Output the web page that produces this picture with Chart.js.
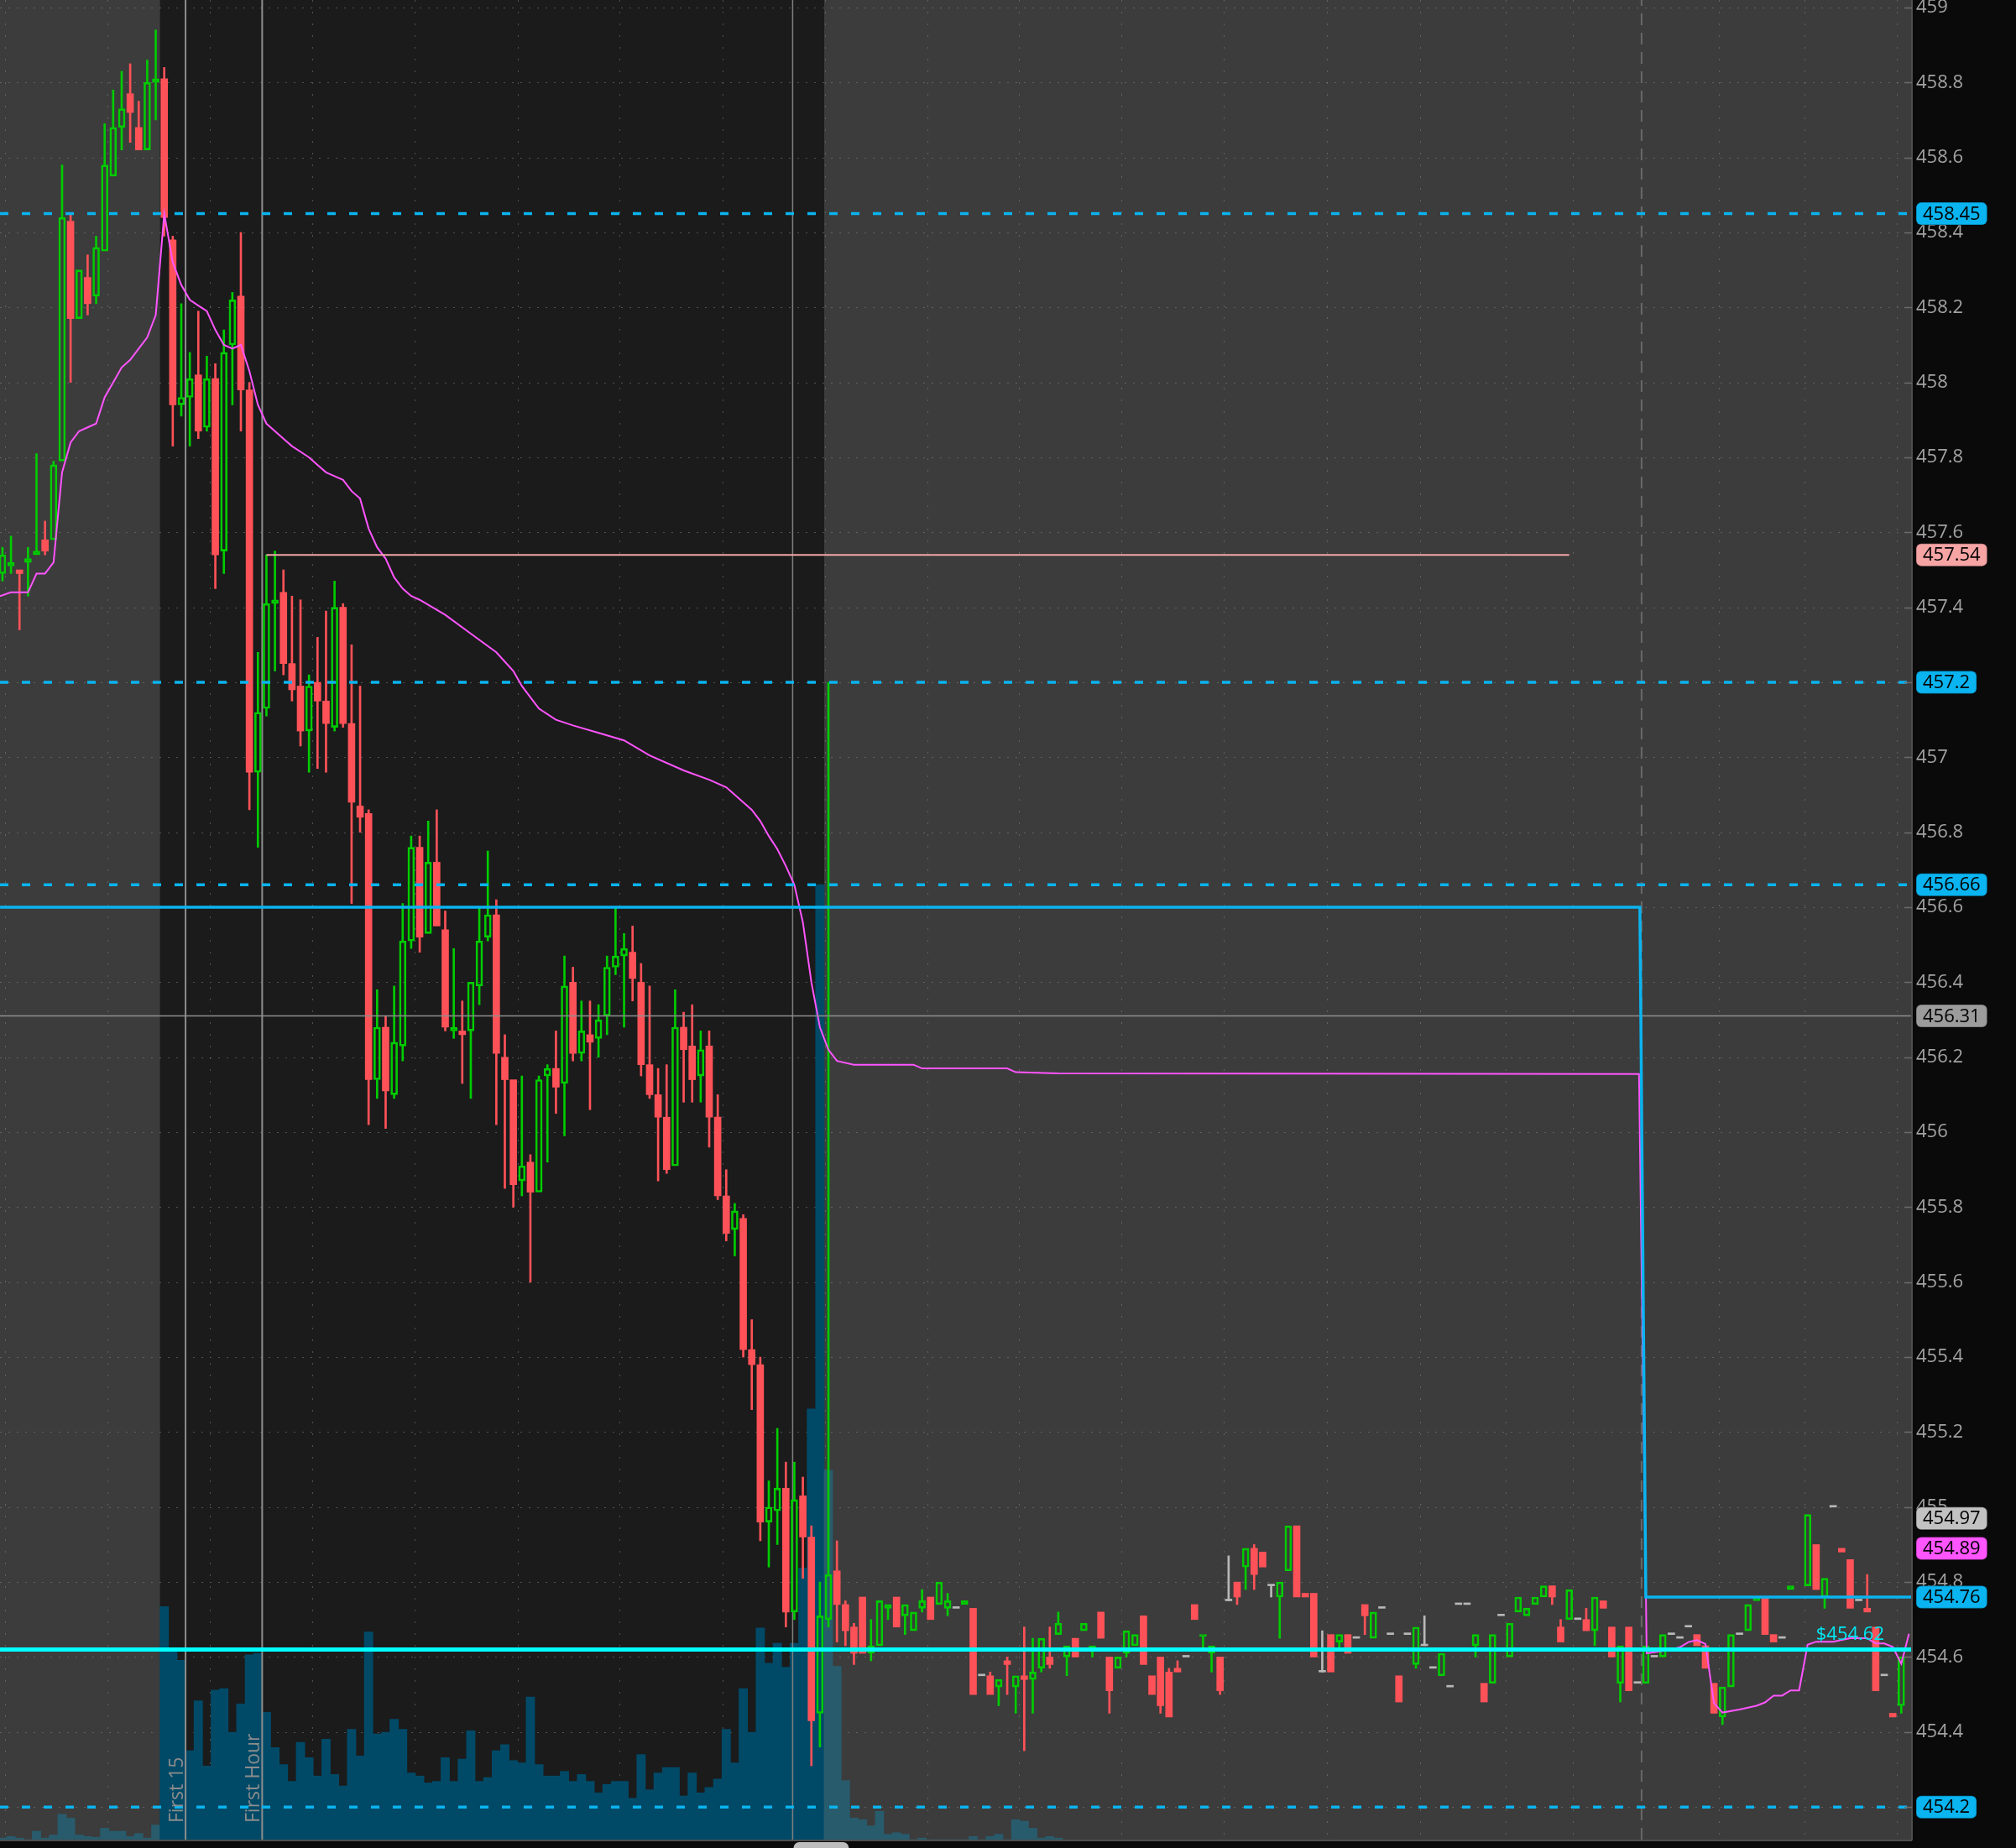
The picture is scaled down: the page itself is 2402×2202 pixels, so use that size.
<!DOCTYPE html>
<html>
<head>
<meta charset="utf-8">
<title>SPY 5 min</title>
<script src="https://cdn.jsdelivr.net/npm/chart.js@4.4.1/dist/chart.umd.min.js"></script>
<style>
  html, body { margin: 0; padding: 0; background: #0a0a0a; }
  canvas { display: block; }
</style>
</head>
<body>
<canvas id="chart" width="2402" height="2202"></canvas>
<script>
// one slot per 5 min bar, slot 19 = regular session open
const OPEN = [
  457.49, 457.51, 457.50, 457.52, 457.54, 457.58, 457.58, 457.79, 458.43, 458.17,
  458.28, 458.23, 458.35, 458.55, 458.68, 458.77, 458.68, 458.62, 458.80, 458.81,
  458.38, 457.94, 457.96, 458.02, 457.88, 458.01, 457.55, 458.10, 458.23, 457.98,
  456.96, 457.13, 457.41, 457.44, 457.25, 457.19, 457.07, 457.20, 457.15, 457.08,
  457.40, 457.09, 456.87, 456.85, 456.14, 456.28, 456.10, 456.23, 456.51, 456.76,
  456.53, 456.72, 456.54, 456.27, 456.27, 456.27, 456.39, 456.52, 456.58, 456.20,
  456.14, 455.87, 455.92, 455.84, 456.15, 456.17, 456.13, 456.40, 456.21, 456.26,
  456.25, 456.31, 456.44, 456.47, 456.48, 456.40, 456.18, 456.10, 456.04, 455.91,
  456.28, 456.23, 456.15, 456.23, 456.04, 455.83, 455.74, 455.77, 455.42, 455.38,
  454.96, 454.99, 455.05, 454.72, 455.03, 454.92, 454.45, 454.70, 454.83, 454.74,
  454.68, 454.76, 454.61, 454.63, 454.73, 454.76, 454.71, 454.67, 454.73, 454.76,
  454.74, 454.73, 454.73, 454.74, 454.73, 454.55, 454.55, 454.52, 454.59, 454.52,
  454.55, 454.54, 454.57, 454.60, 454.66, 454.60, 454.65, 454.67, 454.62, 454.72,
  454.60, 454.57, 454.61, 454.63, 454.71, 454.55, 454.60, 454.56, 454.57, 454.60,
  454.74, 454.655, 454.61, 454.60, 454.75, 454.80, 454.84, 454.89, 454.88, 454.79,
  454.76, 454.83, 454.95, 454.77, 454.77, 454.56, 454.66, 454.64, 454.66, 454.65,
  454.74, 454.65, 454.73, 454.66, 454.55, 454.66, 454.58, 454.63, 454.57, 454.55,
  454.52, 454.74, 454.74, 454.63, 454.53, 454.53, 454.71, 454.60, 454.72, 454.71,
  454.74, 454.76, 454.79, 454.68, 454.70, 454.70, 454.70, 454.67, 454.75, 454.68,
  454.53, 454.68, 454.53, 454.53, 454.60, 454.60, 454.66, 454.65, 454.68, 454.66,
  454.63, 454.53, 454.44, 454.52, 454.66, 454.67, 454.75, 454.76, 454.66, 454.65,
  454.78, null, 454.79, 454.90, 454.76, 455.00, 454.89, 454.86, 454.75, 454.73,
  454.68, 454.55, 454.45, 454.47, null
];
const HIGH = [
  457.56, 457.59, 457.50, 457.56, 457.81, 457.63, 457.79, 458.58, 458.45, 458.30,
  458.34, 458.39, 458.69, 458.78, 458.83, 458.85, 458.75, 458.86, 458.94, 458.84,
  458.39, 458.21, 458.08, 458.19, 458.07, 458.05, 458.14, 458.24, 458.40, 458.00,
  457.28, 457.54, 457.55, 457.50, 457.43, 457.42, 457.22, 457.32, 457.39, 457.47,
  457.41, 457.30, 457.19, 456.86, 456.38, 456.31, 456.39, 456.61, 456.79, 456.79,
  456.83, 456.86, 456.59, 456.49, 456.35, 456.40, 456.60, 456.75, 456.62, 456.26,
  456.14, 456.15, 455.94, 456.15, 456.18, 456.27, 456.47, 456.44, 456.35, 456.35,
  456.34, 456.47, 456.60, 456.53, 456.55, 456.45, 456.39, 456.17, 456.18, 456.38,
  456.32, 456.34, 456.27, 456.27, 456.10, 455.90, 455.81, 455.78, 455.50, 455.40,
  455.07, 455.21, 455.12, 455.12, 455.08, 454.95, 454.80, 457.20, 454.91, 454.75,
  454.69, 454.76, 454.70, 454.75, 454.74, 454.76, 454.74, 454.72, 454.78, 454.76,
  454.80, 454.77, 454.73, 454.75, 454.73, 454.55, 454.56, 454.54, 454.60, 454.55,
  454.68, 454.65, 454.65, 454.68, 454.72, 454.63, 454.65, 454.69, 454.63, 454.72,
  454.60, 454.60, 454.67, 454.66, 454.71, 454.55, 454.60, 454.57, 454.59, 454.60,
  454.74, 454.66, 454.63, 454.60, 454.87, 454.80, 454.89, 454.90, 454.88, 454.79,
  454.80, 454.95, 454.95, 454.77, 454.77, 454.67, 454.66, 454.66, 454.66, 454.65,
  454.74, 454.72, 454.73, 454.66, 454.55, 454.66, 454.68, 454.71, 454.57, 454.61,
  454.52, 454.74, 454.74, 454.66, 454.53, 454.66, 454.71, 454.69, 454.76, 454.73,
  454.76, 454.79, 454.79, 454.70, 454.78, 454.70, 454.73, 454.76, 454.75, 454.68,
  454.63, 454.68, 454.53, 454.63, 454.60, 454.66, 454.66, 454.65, 454.68, 454.66,
  454.63, 454.53, 454.52, 454.66, 454.66, 454.74, 454.76, 454.76, 454.66, 454.65,
  454.79, null, 454.98, 454.90, 454.81, 455.00, 454.89, 454.86, 454.75, 454.82,
  454.68, 454.55, 454.45, 454.60, null
];
const LOW = [
  457.47, 457.49, 457.34, 457.43, 457.54, 457.54, 457.58, 457.79, 458.00, 458.17,
  458.18, 458.21, 458.35, 458.55, 458.62, 458.64, 458.62, 458.62, 458.70, 458.39,
  457.83, 457.91, 457.83, 457.85, 457.87, 457.45, 457.49, 457.94, 457.87, 456.86,
  456.76, 457.11, 457.23, 457.22, 457.15, 457.03, 456.96, 456.97, 456.96, 457.07,
  457.08, 456.61, 456.80, 456.02, 456.09, 456.01, 456.09, 456.19, 456.49, 456.48,
  456.53, 456.55, 456.27, 456.25, 456.13, 456.09, 456.34, 456.51, 456.02, 455.85,
  455.80, 455.83, 455.60, 455.84, 455.92, 456.05, 455.99, 456.19, 456.19, 456.06,
  456.20, 456.26, 456.42, 456.28, 456.35, 456.15, 456.09, 455.87, 455.89, 455.91,
  456.08, 456.08, 456.08, 455.96, 455.82, 455.71, 455.67, 455.40, 455.26, 454.91,
  454.84, 454.90, 454.68, 454.70, 454.81, 454.31, 454.36, 454.68, 454.64, 454.63,
  454.58, 454.61, 454.59, 454.63, 454.70, 454.68, 454.66, 454.67, 454.72, 454.70,
  454.74, 454.71, 454.73, 454.74, 454.50, 454.55, 454.50, 454.47, 454.50, 454.45,
  454.35, 454.45, 454.56, 454.57, 454.66, 454.55, 454.60, 454.67, 454.60, 454.65,
  454.45, 454.57, 454.60, 454.63, 454.58, 454.50, 454.45, 454.44, 454.56, 454.60,
  454.70, 454.625, 454.56, 454.50, 454.75, 454.74, 454.78, 454.78, 454.84, 454.76,
  454.65, 454.83, 454.76, 454.76, 454.60, 454.56, 454.56, 454.62, 454.61, 454.65,
  454.66, 454.65, 454.73, 454.66, 454.48, 454.66, 454.57, 454.63, 454.57, 454.55,
  454.52, 454.74, 454.74, 454.60, 454.48, 454.53, 454.71, 454.60, 454.72, 454.71,
  454.74, 454.76, 454.74, 454.64, 454.70, 454.70, 454.67, 454.63, 454.73, 454.60,
  454.48, 454.51, 454.53, 454.53, 454.60, 454.60, 454.66, 454.65, 454.68, 454.63,
  454.57, 454.45, 454.42, 454.52, 454.66, 454.67, 454.75, 454.66, 454.64, 454.65,
  454.78, null, 454.79, 454.78, 454.73, 455.00, 454.88, 454.73, 454.75, 454.72,
  454.51, 454.55, 454.44, 454.45, null
];
const CLOSE = [
  457.54, 457.52, 457.49, 457.53, 457.55, 457.55, 457.78, 458.44, 458.17, 458.30,
  458.21, 458.36, 458.58, 458.68, 458.73, 458.72, 458.62, 458.80, 458.81, 458.44,
  457.94, 457.96, 458.01, 457.87, 458.01, 457.54, 458.08, 458.22, 457.98, 456.96,
  457.12, 457.41, 457.42, 457.25, 457.18, 457.07, 457.19, 457.15, 457.09, 457.40,
  457.09, 456.88, 456.84, 456.14, 456.28, 456.11, 456.24, 456.51, 456.76, 456.52,
  456.72, 456.55, 456.28, 456.28, 456.26, 456.40, 456.51, 456.58, 456.21, 456.14,
  455.86, 455.91, 455.84, 456.14, 456.17, 456.12, 456.39, 456.21, 456.27, 456.24,
  456.30, 456.44, 456.47, 456.49, 456.41, 456.18, 456.10, 456.04, 455.90, 456.28,
  456.22, 456.14, 456.22, 456.04, 455.83, 455.73, 455.79, 455.42, 455.38, 454.96,
  455.00, 455.05, 454.72, 455.02, 454.92, 454.43, 454.71, 454.82, 454.74, 454.67,
  454.61, 454.61, 454.63, 454.75, 454.74, 454.68, 454.74, 454.72, 454.75, 454.70,
  454.80, 454.75, 454.73, 454.75, 454.50, 454.55, 454.50, 454.54, 454.58, 454.55,
  454.54, 454.56, 454.65, 454.58, 454.69, 454.63, 454.60, 454.69, 454.63, 454.65,
  454.51, 454.60, 454.67, 454.66, 454.58, 454.50, 454.47, 454.44, 454.56, 454.60,
  454.70, 454.66, 454.63, 454.51, 454.75, 454.76, 454.89, 454.82, 454.84, 454.79,
  454.80, 454.95, 454.76, 454.76, 454.60, 454.56, 454.56, 454.66, 454.61, 454.65,
  454.71, 454.72, 454.73, 454.66, 454.48, 454.66, 454.68, 454.63, 454.57, 454.61,
  454.52, 454.74, 454.74, 454.66, 454.48, 454.66, 454.71, 454.69, 454.76, 454.73,
  454.76, 454.79, 454.76, 454.64, 454.78, 454.70, 454.67, 454.76, 454.73, 454.60,
  454.63, 454.51, 454.53, 454.63, 454.60, 454.66, 454.66, 454.65, 454.68, 454.63,
  454.57, 454.45, 454.52, 454.66, 454.66, 454.74, 454.76, 454.66, 454.64, 454.65,
  454.79, null, 454.98, 454.78, 454.81, 455.00, 454.88, 454.73, 454.75, 454.72,
  454.51, 454.55, 454.44, 454.60, null
];
// volume in thousands of shares, slots 0..124 (nothing shown after)
const VOLUME = [
  2, 4, 2, 0, 11, 2, 6, 33, 28, 6, 4, 3, 15, 11, 11, 4, 8, 2, 19,
  304, 246, 234, 116, 181, 96, 195, 197, 140, 177,
  241, 243, 166, 120, 98, 76, 127, 107, 83, 131,
  85, 70, 144, 109, 271, 138, 140, 157, 144, 87,
  83, 74, 76, 107, 76, 105, 142, 76, 81, 116,
  124, 103, 100, 186, 98, 83, 83, 89, 76, 85,
  76, 61, 72, 76, 76, 54, 111, 65, 87, 94,
  94, 57, 87, 61, 68, 79, 144, 100, 197, 140,
  276, 230, 256, 225, 256, 354, 562, 1246,
  482, 226, 77, 28, 26, 18, 37, 7, 9, 7, 0, 2, 0, 0, 0, 0, 0, 4, 0, 4,
  7, 0, 26, 24, 15, 2, 4, 2
];
const VWAP_SLOTS = [
  -0.3, 1, 3, 4, 5, 6, 7, 8, 9, 10, 11, 12, 13, 14, 15, 16, 17, 18, 19, 20,
  21, 22, 23, 24, 25, 26, 27, 28, 29, 30, 31, 32, 33, 34, 35, 36, 37, 38, 39, 40,
  41, 42, 43, 44, 45, 46, 47, 48, 49, 52, 55, 58, 60, 61, 62, 63, 65, 67, 70, 73,
  76, 80, 83, 85, 86, 87, 88, 89, 90, 91, 92, 93, 94, 95, 96, 97, 98, 100, 107, 108,
  118, 119, 124, 192.2, 193.1, 196, 197, 198, 199, 200, 201, 202, 204, 206, 207, 208, 209, 210, 211, 212,
  213, 215, 217, 219, 220, 221, 222, 223, 223.9
];
const VWAP_PRICES = [
  457.43, 457.44, 457.44, 457.49, 457.49, 457.52, 457.76, 457.84, 457.87, 457.88, 457.89, 457.96, 458.00, 458.04, 458.06, 458.09, 458.12, 458.18, 458.45, 458.32,
  458.26, 458.22, 458.205, 458.19, 458.14, 458.10, 458.09, 458.10, 458.03, 457.94, 457.89, 457.87, 457.85, 457.83, 457.815, 457.80, 457.78, 457.76, 457.75, 457.74,
  457.71, 457.69, 457.61, 457.56, 457.53, 457.48, 457.45, 457.43, 457.42, 457.38, 457.33, 457.28, 457.23, 457.19, 457.16, 457.13, 457.10, 457.085, 457.065, 457.045,
  457.005, 456.965, 456.94, 456.92, 456.90, 456.88, 456.86, 456.83, 456.79, 456.755, 456.71, 456.66, 456.56, 456.40, 456.28, 456.22, 456.19, 456.18, 456.18, 456.17,
  456.17, 456.16, 456.157, 456.155, 454.61, 454.62, 454.626, 454.64, 454.645, 454.635, 454.477, 454.452, 454.46, 454.47, 454.479, 454.497, 454.497, 454.511, 454.511, 454.633,
  454.641, 454.641, 454.65, 454.65, 454.636, 454.636, 454.627, 454.582, 454.662
];
const STEP_SLOTS = [-0.3, 192.3, 193.0, 224.3];
const STEP_PRICES = [456.6, 456.6, 454.76, 454.76];
const DASHED_LEVELS = [458.45, 457.2, 456.66, 454.2];
const ENTRY_PRICE = 454.62;
const HIGH_LEVEL = 457.54;
const HIGH_LEVEL_SLOTS = [31, 184];
const CROSS_PRICE = 456.31;
const CROSS_SLOT = 92.8;
const MARKER_SLOTS = [21.5, 30.5];
const MARKER_TEXT = ['First 15', 'First Hour'];
const DAY_BREAK_SLOT = 192.5;
const GRID_SLOTS = [0.35, 12.3, 24.4, 36.4, 48.4, 60.5, 72.5, 84.6, 96.6, 108.6, 119.4, 131.4, 143.4, 155.5, 166.5, 176.5, 184.4, 201.6, 211.6, 222.5];
const TAG_PRICES = [458.45, 457.54, 457.2, 456.66, 456.31, 454.97, 454.89, 454.76, 454.2];
const TAG_COLORS = ['#0ab4f0', '#f6a4a4', '#0ab4f0', '#0ab4f0', '#9c9c9c', '#c2c2c2', '#ff55ff', '#0ab4f0', '#0ab4f0'];
const ENTRY_TEXT = '$454.62';
const ENTRY_TEXT_SLOT = 221;
const RTH_SLOTS = [18.5, 96.5];
const SCROLL_SLOTS = [92.9, 99.4];

const X_MIN = -0.29, X_MAX = 224.25;
const Y_MIN = 454.113, Y_MAX = 459.02;
const VOL_MAX = 2400;

const UP = '#00cc00', DOWN = '#ff5258', FLAT = '#b8b8b8';
const LEVEL_BLUE = '#0ab4f0';
const FONT = '"Open Sans", sans-serif';

const candleColor = kind => kind === 'up' ? UP : kind === 'down' ? DOWN : FLAT;

const candles = [];
OPEN.forEach((o, k) => {
  if (o === null) return;
  const c = CLOSE[k];
  candles.push({ k, o, h: HIGH[k], l: LOW[k], c, kind: c > o ? 'up' : c < o ? 'down' : 'flat' });
});
const bodies = candles.map(d => ({ x: d.k, y: [d.o, d.c], kind: d.kind }));
const upperWicks = candles
  .filter(d => d.h > Math.max(d.o, d.c))
  .map(d => ({ x: d.k, y: [Math.max(d.o, d.c), d.h], kind: d.kind }));
const lowerWicks = candles
  .filter(d => d.l < Math.min(d.o, d.c))
  .map(d => ({ x: d.k, y: [d.l, Math.min(d.o, d.c)], kind: d.kind }));
const volume = VOLUME.map((v, k) => ({ x: k, y: v }));

const hLine = (price, from, to) => [{ x: from, y: price }, { x: to, y: price }];
const vLine = slot => [{ x: slot, y: Y_MIN }, { x: slot, y: Y_MAX }];
const lineSet = (data, color, width, order, dash) => ({
  type: 'line', data, yAxisID: 'y', order,
  borderColor: color, borderWidth: width, borderDash: dash || [],
  pointRadius: 0, tension: 0, fill: false,
});

const wickSet = (data, order) => ({
  type: 'bar', data, yAxisID: 'y', order, grouped: false,
  barThickness: 2, borderWidth: 0,
  backgroundColor: ctx => candleColor(ctx.raw && ctx.raw.kind),
});

const decor = {
  id: 'decor',
  beforeDraw(chart) {
    const { ctx, chartArea: a, scales: { x } } = chart;
    ctx.save();
    ctx.fillStyle = '#0a0a0a';
    ctx.fillRect(0, 0, chart.width, chart.height);
    ctx.fillStyle = '#3c3c3c';
    ctx.fillRect(a.left, a.top, a.width, a.height);
    const x0 = x.getPixelForValue(RTH_SLOTS[0]);
    const x1 = x.getPixelForValue(RTH_SLOTS[1]);
    ctx.fillStyle = '#1b1b1b';
    ctx.fillRect(x0, a.top, x1 - x0, a.height);
    ctx.restore();
  },
  beforeDatasetsDraw(chart) {
    const { ctx, chartArea: a, scales: { x, y } } = chart;
    ctx.save();
    ctx.strokeStyle = 'rgba(135,135,135,0.5)';
    ctx.lineWidth = 1;
    ctx.setLineDash([2, 8]);
    y.ticks.forEach(t => {
      const py = Math.round(y.getPixelForValue(t.value)) + 0.5;
      ctx.beginPath(); ctx.moveTo(a.left, py); ctx.lineTo(a.right, py); ctx.stroke();
    });
    ctx.setLineDash([2, 12]);
    GRID_SLOTS.forEach(s => {
      const px = Math.round(x.getPixelForValue(s)) + 0.5;
      ctx.beginPath(); ctx.moveTo(px, a.top); ctx.lineTo(px, a.bottom); ctx.stroke();
    });
    ctx.restore();
  },
  afterDatasetsDraw(chart) {
    const { ctx, chartArea: a, scales: { x, y } } = chart;
    ctx.save();
    ctx.font = '23px ' + FONT;
    ctx.fillStyle = '#8c8c8c';
    MARKER_SLOTS.forEach((s, i) => {
      ctx.save();
      ctx.translate(x.getPixelForValue(s) - 3, a.bottom - 20);
      ctx.rotate(-Math.PI / 2);
      ctx.textAlign = 'left';
      ctx.textBaseline = 'alphabetic';
      ctx.fillText(MARKER_TEXT[i], 0, 0);
      ctx.restore();
    });
    ctx.font = '22px ' + FONT;
    ctx.fillStyle = '#00e6f2';
    ctx.textAlign = 'right';
    ctx.textBaseline = 'alphabetic';
    ctx.fillText(ENTRY_TEXT, x.getPixelForValue(ENTRY_TEXT_SLOT), y.getPixelForValue(ENTRY_PRICE) - 12);
    ctx.restore();
  },
  afterDraw(chart) {
    const { ctx, chartArea: a, scales: { x, y } } = chart;
    ctx.save();
    // frame
    ctx.strokeStyle = '#4e4e4e';
    ctx.lineWidth = 2;
    ctx.beginPath(); ctx.moveTo(a.right, 0); ctx.lineTo(a.right, a.bottom + 1); ctx.stroke();
    ctx.beginPath(); ctx.moveTo(a.left, a.bottom + 1); ctx.lineTo(a.right, a.bottom + 1); ctx.stroke();
    // tick marks point into the plot
    ctx.strokeStyle = '#6c6c6c';
    ctx.lineWidth = 1.5;
    y.ticks.forEach(t => {
      const py = Math.round(y.getPixelForValue(t.value)) + 0.5;
      ctx.beginPath(); ctx.moveTo(a.right - 9, py); ctx.lineTo(a.right, py); ctx.stroke();
    });
    // price tags
    ctx.font = '22px ' + FONT;
    ctx.textAlign = 'left';
    ctx.textBaseline = 'middle';
    TAG_PRICES.forEach((p, i) => {
      const text = String(p);
      const w = ctx.measureText(text).width + 16;
      const cy = y.getPixelForValue(p);
      const bx = a.right + 5;
      ctx.beginPath();
      ctx.roundRect(bx, cy - 13.5, w, 27, 6);
      ctx.fillStyle = TAG_COLORS[i];
      ctx.fill();
      ctx.lineWidth = 1.5;
      ctx.strokeStyle = 'rgba(0,0,0,0.28)';
      ctx.stroke();
      ctx.fillStyle = '#000';
      ctx.fillText(text, bx + 8, cy + 1);
    });
    // scroll thumb
    const s0 = x.getPixelForValue(SCROLL_SLOTS[0]);
    const s1 = x.getPixelForValue(SCROLL_SLOTS[1]);
    ctx.beginPath();
    ctx.roundRect(s0, a.bottom + 3, s1 - s0, 16, 7);
    ctx.fillStyle = '#bdbdbd';
    ctx.fill();
    ctx.restore();
  }
};

Chart.defaults.font.family = FONT;

new Chart(document.getElementById('chart'), {
  type: 'bar',
  data: {
    datasets: [
      {
        type: 'bar', label: 'Volume', data: volume, yAxisID: 'yVol', order: 20,
        grouped: false, barThickness: 10.2, borderWidth: 0,
        backgroundColor: ctx => (ctx.raw && ctx.raw.x > RTH_SLOTS[0] && ctx.raw.x < RTH_SLOTS[1]) ? '#004a68' : '#285b6c',
      },
      lineSet(vLine(MARKER_SLOTS[0]), '#8d8d8d', 2, 16),
      lineSet(vLine(MARKER_SLOTS[1]), '#8d8d8d', 2, 16),
      lineSet(vLine(CROSS_SLOT), '#808080', 1.5, 16),
      lineSet(vLine(DAY_BREAK_SLOT), '#686868', 2, 16, [14, 9]),
      wickSet(upperWicks, 13),
      wickSet(lowerWicks, 13),
      {
        type: 'bar', label: 'Price', data: bodies, yAxisID: 'y', order: 12,
        grouped: false, barThickness: 8, minBarLength: 2, borderSkipped: false,
        backgroundColor: ctx => (ctx.raw && ctx.raw.kind === 'up') ? 'rgba(0,0,0,0)' : candleColor(ctx.raw && ctx.raw.kind),
        borderColor: ctx => candleColor(ctx.raw && ctx.raw.kind),
        borderWidth: ctx => (ctx.raw && ctx.raw.kind === 'up') ? 2 : 0,
      },
      lineSet(VWAP_SLOTS.map((s, i) => ({ x: s, y: VWAP_PRICES[i] })), '#ff55ff', 2, 8),
      lineSet(hLine(HIGH_LEVEL, HIGH_LEVEL_SLOTS[0], HIGH_LEVEL_SLOTS[1]), '#f4a6a6', 2, 7),
      lineSet(hLine(CROSS_PRICE, X_MIN, X_MAX), '#8e8e8e', 1.5, 6),
      ...DASHED_LEVELS.map(p => lineSet(hLine(p, X_MIN, X_MAX), LEVEL_BLUE, 3.5, 5, [10, 16])),
      lineSet(STEP_SLOTS.map((s, i) => ({ x: s, y: STEP_PRICES[i] })), LEVEL_BLUE, 3.5, 4),
      lineSet(hLine(ENTRY_PRICE, X_MIN, X_MAX), '#00ffff', 5, 3),
    ]
  },
  options: {
    responsive: false,
    animation: false,
    events: [],
    devicePixelRatio: 1,
    layout: { padding: { left: 0, top: 0, right: 0, bottom: 10 } },
    plugins: { legend: { display: false }, tooltip: { enabled: false } },
    scales: {
      x: {
        type: 'linear', min: X_MIN, max: X_MAX, offset: false, display: false,
        ticks: { includeBounds: false },
      },
      y: {
        position: 'right', min: Y_MIN, max: Y_MAX,
        grid: { display: false, drawTicks: false },
        border: { display: false },
        ticks: {
          stepSize: 0.2, includeBounds: false, autoSkip: false, padding: 5,
          color: '#a2a2a2', font: { size: 22, family: FONT },
          callback: v => String(Math.round(v * 10) / 10),
        },
        afterFit: s => { s.width = 124; s.paddingTop = 0; s.paddingBottom = 0; },
      },
      yVol: { display: false, min: 0, max: VOL_MAX },
    }
  },
  plugins: [decor]
});
</script>
</body>
</html>
